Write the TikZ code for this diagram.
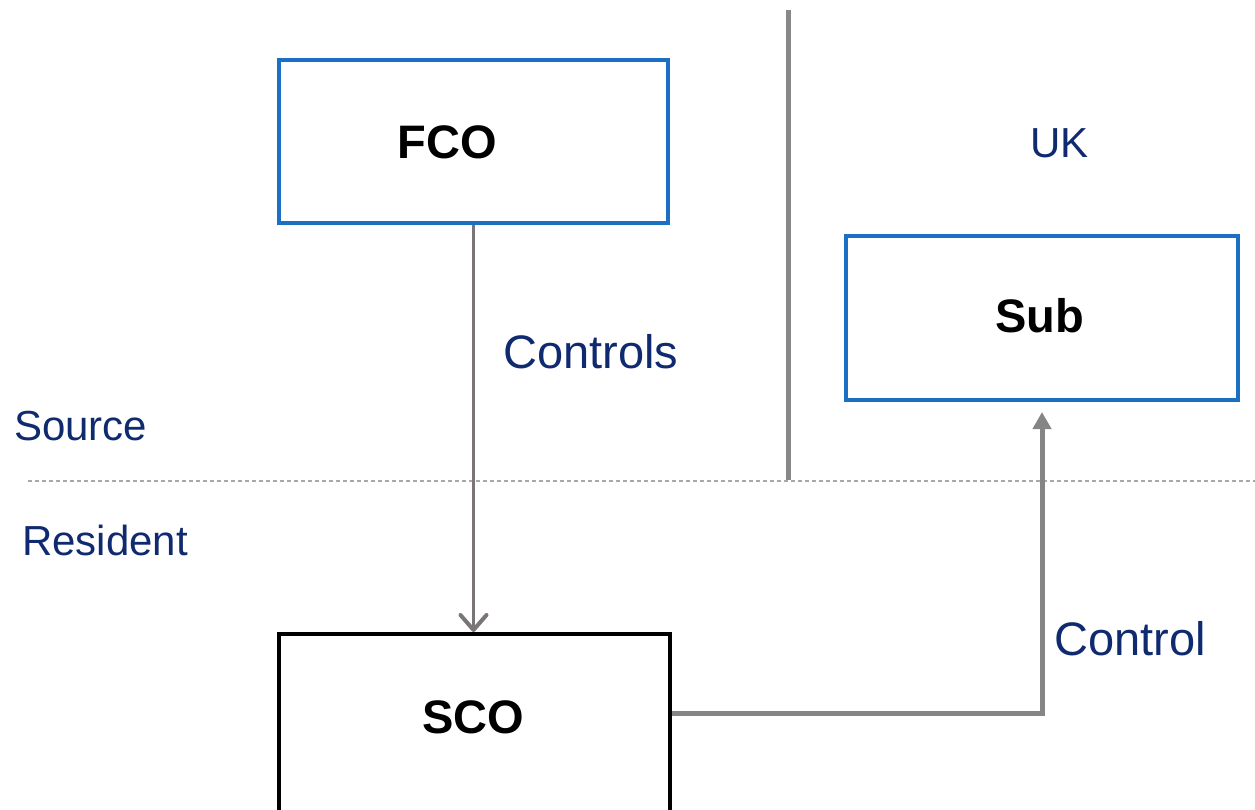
\documentclass[tikz,border=0pt]{standalone}
\usepackage{fontspec}
\setmainfont{Liberation Sans}
\usetikzlibrary{arrows.meta,calc}
\definecolor{navy}{HTML}{0F2A6E}
\definecolor{boxblue}{HTML}{1B70C4}
\definecolor{divgray}{HTML}{888888}
\definecolor{arrgray}{HTML}{7B7575}
\definecolor{ctlgray}{HTML}{858585}
\definecolor{dotgray}{HTML}{A8A8A8}
\tikzset{
  bluebox/.style={draw=boxblue, line width=4pt, rectangle, inner sep=0pt},
  blackbox/.style={draw=black, line width=4pt, rectangle, inner sep=0pt},
  bigtxt/.style={font=\fontsize{47}{56}\selectfont\bfseries, inner sep=0pt, anchor=base},
  lbltxt/.style={font=\fontsize{47}{56}\selectfont, text=navy, inner sep=0pt, anchor=base west},
  sidetxt/.style={font=\fontsize{42}{50}\selectfont, text=navy, inner sep=0pt, anchor=base west},
  divider/.style={draw=divgray, line width=5pt},
  dotline/.style={draw=dotgray, line width=1.3pt, dash pattern=on 4pt off 3pt},
  ctrlarrow/.style={draw=arrgray, line width=3.5pt, -{Straight Barb[length=15pt,width=26pt,line width=4pt,round]}},
  ctrlarrowb/.style={draw=ctlgray, line width=5pt, -{Triangle[length=17pt,width=18pt]}, shorten >=10pt},
}
\begin{document}
\begin{tikzpicture}[x=1pt,y=-1pt]
\useasboundingbox (0,0) rectangle (1255,809);
% boxes
\node[bluebox, minimum width=389pt, minimum height=163pt] (fco) at (473.5,141.5) {};
\node[bluebox, minimum width=392pt, minimum height=164pt] (sub) at (1042,318) {};
\node[blackbox, minimum width=391pt, minimum height=200pt] (sco) at (474.5,734) {};
% box texts
\node[bigtxt] (fcot) at (447,158) {FCO};
\node[bigtxt] (subt) at (1040,332) {Sub};
\node[bigtxt] (scot) at (473,733) {SCO};
% divider lines
\coordinate (vtop) at (788,10);
\coordinate (vbot) at (788,480);
\draw[divider] (vtop) -- (vbot);
\coordinate (dl) at (28,481);
\coordinate (dr) at (1255,481);
\draw[dotline] (dl) -- (dr);
% side labels
\node[sidetxt] (src) at (14,440) {Source};
\node[sidetxt] (res) at (22,555) {Resident};
\node[sidetxt] (uk) at (1030,157) {UK};
% connectors
\draw[ctrlarrow] (fco.south) -- (fco.south |- sco.north);
\coordinate (scoout) at ($(sco.north east)+(0,81)$);
\draw[ctrlarrowb] (scoout) -| (sub.south);
% connector labels
\node[lbltxt] (lc1) at (503,368) {Controls};
\node[lbltxt] (lc2) at (1054,655) {Control};
\end{tikzpicture}
\end{document}
